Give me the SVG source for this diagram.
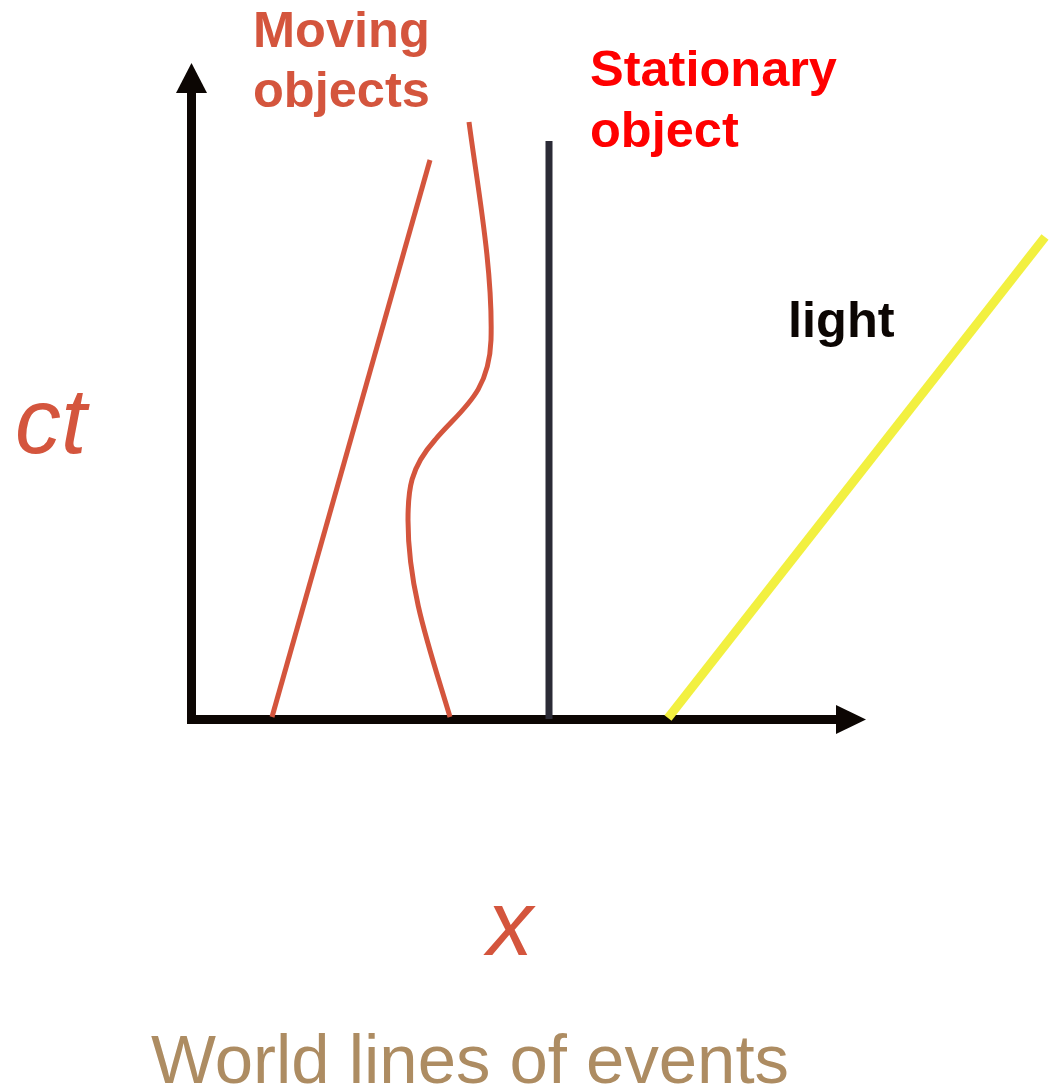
<svg xmlns="http://www.w3.org/2000/svg" width="1055" height="1088" viewBox="0 0 1055 1088">
<style>
.lbl{font-family:"Liberation Sans",Arial,sans-serif;font-weight:bold;font-size:50.5px}
.ax{font-family:"Liberation Sans",Arial,sans-serif;font-style:italic;font-size:92px;fill:#d4553d}
.wl{fill:none;stroke:#d4553d;stroke-width:5}
</style>
<rect width="1055" height="1088" fill="#ffffff"/>
<g id="axes">
<line x1="191.5" y1="724" x2="191.5" y2="92" stroke="#0c0603" stroke-width="9"/>
<polygon points="176,93 207,93 191.5,63" fill="#0c0603"/>
<line x1="187" y1="719.5" x2="837" y2="719.5" stroke="#0c0603" stroke-width="9"/>
<polygon points="836,705 836,734 866,719.5" fill="#0c0603"/>
</g>
<g id="connectors">
<line id="moving1" class="wl" x1="272" y1="717" x2="430" y2="160"/>
<path id="moving2" class="wl" d="M469,122 C478,190 493,270 491,340 C489,395 460,410 435,440 C410,468 408,490 408,520 C408,590 430,650 450,717"/>
<line id="stationary" x1="549" y1="141" x2="549" y2="719" stroke="#2b2b36" stroke-width="7"/>
<line id="lightray" x1="668" y1="718" x2="1045" y2="237" stroke="#f2f040" stroke-width="9"/>
</g>
<g id="label-moving">
<text class="lbl" x="253" y="47" fill="#d4553d">Moving</text>
<text class="lbl" x="253" y="107" fill="#d4553d">objects</text>
</g>
<g id="label-stationary">
<text class="lbl" x="590" y="86" fill="#ff0000">Stationary</text>
<text class="lbl" x="590" y="147" fill="#ff0000">object</text>
</g>
<g id="label-light">
<text class="lbl" x="788" y="337" fill="#0c0603">light</text>
</g>
<g id="label-ct"><text class="ax" x="15" y="453">ct</text></g>
<g id="label-x"><text class="ax" x="487" y="955">x</text></g>
<g id="title"><text x="151" y="1083" textLength="638" lengthAdjust="spacingAndGlyphs" font-family="'Liberation Sans',Arial,sans-serif" font-size="68" fill="#ad8c62">World lines of events</text></g>
</svg>
